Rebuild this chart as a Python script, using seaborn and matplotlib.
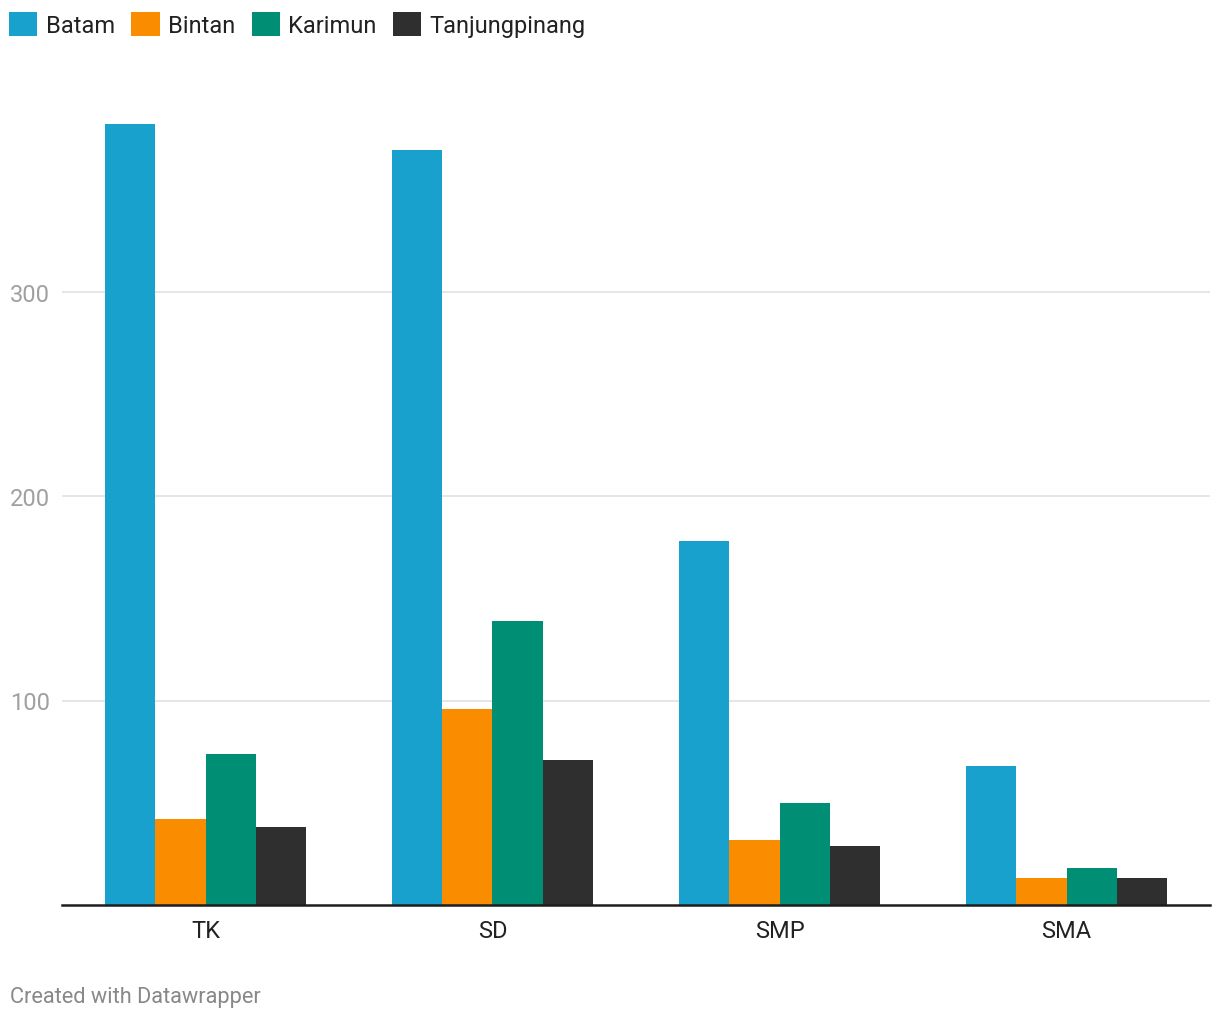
import pandas as pd
import matplotlib.pyplot as plt
import seaborn as sns

# data
jenjang = ['TK', 'SD', 'SMP', 'SMA']
batam = [382, 369, 178, 68]
bintan = [42, 96, 32, 13]
karimun = [74, 139, 50, 18]
tanjungpinang = [38, 71, 29, 13]

wilayah = ['Batam', 'Bintan', 'Karimun', 'Tanjungpinang']
warna = ['#18a1cd', '#fa8c00', '#008f75', '#2f2f2f']

df = pd.DataFrame({
    'jenjang': jenjang * 4,
    'wilayah': sum([[w] * 4 for w in wilayah], []),
    'jumlah': batam + bintan + karimun + tanjungpinang,
})

sns.set_style('white')
plt.rcParams['font.family'] = ['Roboto', 'DejaVu Sans']

W, H = 1220, 1020
fig = plt.figure(figsize=(W / 100, H / 100), dpi=100)
ax = fig.add_axes([62 / W, 1 - 906 / H, (1210 - 62) / W, (906 - 100) / H])

sns.barplot(data=df, x='jenjang', y='jumlah', hue='wilayah', order=jenjang,
            hue_order=wilayah, palette=warna, width=0.7, saturation=1,
            edgecolor='none', linewidth=0, ax=ax)

ax.set_xlim(-0.5, 3.5)
ax.set_ylim(0, 806 / 2.045)
ax.set_yticks([100, 200, 300])
ax.yaxis.grid(True, color='#e3e3e3', linewidth=1.3)
ax.set_axisbelow(True)

for s in ['top', 'right', 'left']:
    ax.spines[s].set_visible(False)
ax.spines['bottom'].set_color('#1d1d1d')
ax.spines['bottom'].set_linewidth(1.8)

ax.tick_params(axis='y', length=0, labelsize=17, labelcolor='#a0a0a0', pad=8.5)
ax.tick_params(axis='x', length=0, labelsize=17, labelcolor='#222222', pad=10)
ax.set_xlabel('')
ax.set_ylabel('')

# legend on top
handles, labels = ax.get_legend_handles_labels()
ax.get_legend().remove()
fig.legend(handles, labels, loc='upper left', bbox_to_anchor=(9 / W, 1 - 13 / H),
           ncol=4, frameon=False, fontsize=17, labelcolor='#222222',
           handlelength=1.2, handleheight=1.2, handletextpad=0.35,
           columnspacing=0.7, borderpad=0, borderaxespad=0)

fig.text(10 / W, 1 - 998 / H, 'Created with Datawrapper', fontsize=15.7,
         color='#888888', va='center', ha='left')

fig.savefig('out.png', dpi=100)
